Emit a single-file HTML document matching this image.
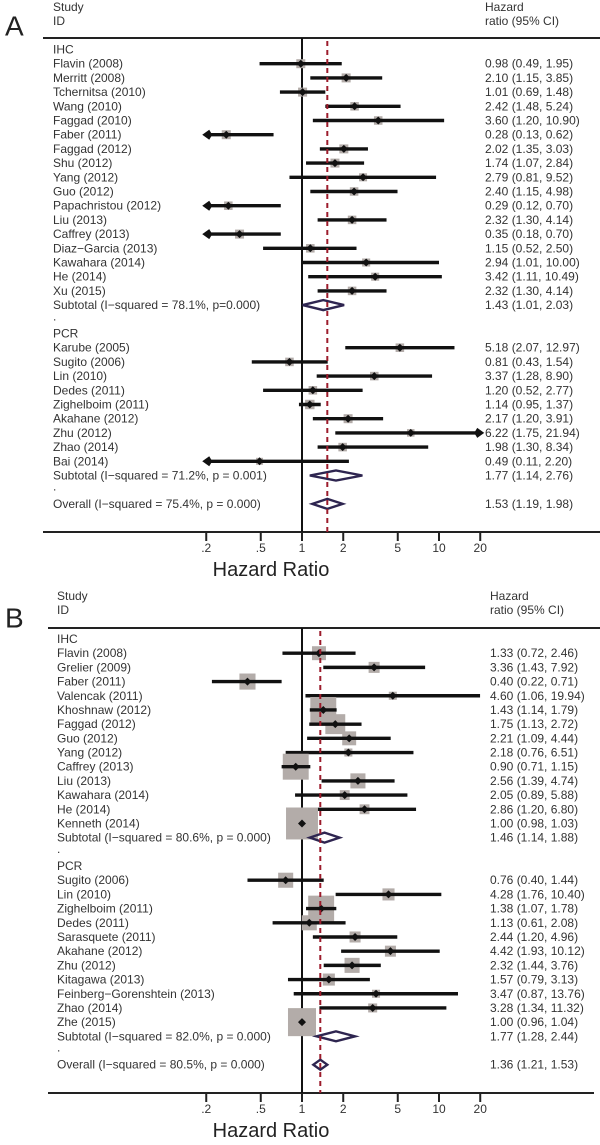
<!DOCTYPE html>
<html><head><meta charset="utf-8"><style>
body{margin:0;background:#fff}
svg{display:block;font-family:"Liberation Sans",Arial,sans-serif}
</style></head><body>
<svg id="chart" width="600" height="1145" viewBox="0 0 600 1145" xmlns="http://www.w3.org/2000/svg"></svg>
<script>
// ---------- Panel A data ----------
const groupsA = ["IHC", "PCR"];
const namesA1 = ["Flavin (2008)","Merritt (2008)","Tchernitsa (2010)","Wang (2010)","Faggad (2010)","Faber (2011)","Faggad (2012)","Shu (2012)","Yang (2012)","Guo (2012)","Papachristou (2012)","Liu  (2013)","Caffrey (2013)","Diaz\u2212Garcia (2013)","Kawahara (2014)","He (2014)","Xu (2015)"];
const hrA1 = [0.98,2.10,1.01,2.42,3.60,0.28,2.02,1.74,2.79,2.40,0.29,2.32,0.35,1.15,2.94,3.42,2.32];
const loA1 = [0.49,1.15,0.69,1.48,1.20,0.13,1.35,1.07,0.81,1.15,0.12,1.30,0.18,0.52,1.01,1.11,1.30];
const hiA1 = [1.95,3.85,1.48,5.24,10.90,0.62,3.03,2.84,9.52,4.98,0.70,4.14,0.70,2.50,10.00,10.49,4.14];
const wA1 = [1.0,1.0,1.0,0.9,0.9,1.0,1.0,1.0,0.8,0.9,0.9,0.9,1.0,0.9,0.8,0.8,0.9];
const subA1 = {label:"Subtotal  (I\u2212squared = 78.1%, p=0.000)", hr:1.43, lo:1.01, hi:2.03};
const namesA2 = ["Karube (2005)","Sugito (2006)","Lin (2010)","Dedes (2011)","Zighelboim (2011)","Akahane (2012)","Zhu (2012)","Zhao (2014)","Bai (2014)"];
const hrA2 = [5.18,0.81,3.37,1.20,1.14,2.17,6.22,1.98,0.49];
const loA2 = [2.07,0.43,1.28,0.52,0.95,1.20,1.75,1.30,0.11];
const hiA2 = [12.97,1.54,8.90,2.77,1.37,3.91,21.94,8.34,2.20];
const wA2 = [0.9,0.9,0.9,0.9,1.1,1.0,0.7,0.9,0.6];
const subA2 = {label:"Subtotal  (I\u2212squared = 71.2%, p = 0.001)", hr:1.77, lo:1.14, hi:2.76};
const overallA = {label:"Overall  (I\u2212squared = 75.4%, p = 0.000)", hr:1.53, lo:1.19, hi:1.98};

// ---------- Panel B data ----------
const namesB1 = ["Flavin (2008)","Grelier (2009)","Faber (2011)","Valencak (2011)","Khoshnaw (2012)","Faggad (2012)","Guo (2012)","Yang (2012)","Caffrey (2013)","Liu (2013)","Kawahara (2014)","He (2014)","Kenneth (2014)"];
const hrB1 = [1.33,3.36,0.40,4.60,1.43,1.75,2.21,2.18,0.90,2.56,2.05,2.86,1.00];
const loB1 = [0.72,1.43,0.22,1.06,1.14,1.13,1.09,0.76,0.71,1.39,0.89,1.20,0.98];
const hiB1 = [2.46,7.92,0.71,19.94,1.79,2.72,4.44,6.51,1.15,4.74,5.88,6.80,1.03];
const wB1 = [2.4,1.5,3.2,0.8,8.3,4.9,2.4,0.8,8.3,2.8,1.2,1.2,12.6];
const subB1 = {label:"Subtotal  (I\u2212squared = 80.6%, p = 0.000)", hr:1.46, lo:1.14, hi:1.88};
const namesB2 = ["Sugito (2006)","Lin (2010)","Zighelboim (2011)","Dedes (2011)","Sarasquete (2011)","Akahane (2012)","Zhu (2012)","Kitagawa (2013)","Feinberg\u2212Gorenshtein (2013)","Zhao (2014)","Zhe (2015)"];
const hrB2 = [0.76,4.28,1.38,1.13,2.44,4.42,2.32,1.57,3.47,3.28,1.00];
const loB2 = [0.40,1.76,1.07,0.61,1.20,1.93,1.44,0.79,0.87,1.34,0.96];
const hiB2 = [1.44,10.40,1.78,2.08,4.96,10.12,3.76,3.13,13.76,11.32,1.04];
const wB2 = [2.8,1.8,8.3,2.8,1.5,1.5,2.8,1.8,0.8,1.0,9.7];
const subB2 = {label:"Subtotal  (I\u2212squared = 82.0%, p = 0.000)", hr:1.77, lo:1.28, hi:2.44};
const overallB = {label:"Overall  (I\u2212squared = 80.5%, p = 0.000)", hr:1.36, lo:1.21, hi:1.53};

const tickVals = [0.2,0.5,1,2,5,10,20];
const tickLabels = [".2",".5","1","2","5","10","20"];
const clipMin = 0.2, clipMax = 20;

const svg = document.getElementById('chart');
const NS = 'http://www.w3.org/2000/svg';
function mk(tag, attrs, parent){ const e=document.createElementNS(NS,tag); for(const k in attrs) e.setAttribute(k,attrs[k]); (parent||svg).appendChild(e); return e; }
const xScale = v => 302 + Math.log10(v)*137;
const fmt = v => v.toFixed(2);
function ciText(d){ return fmt(d.hr)+" ("+fmt(d.lo)+", "+fmt(d.hi)+")"; }

function panel(cfg){
  const g = mk('g',{});
  
  
  const rowY = i => cfg.y0 + i*cfg.step;
  let t;
  t = mk('text',{x:5,y:cfg.letterY,'font-size':28,fill:'#222','dominant-baseline':'central'},g); t.textContent=cfg.letter;
   
  t = mk('text',{x:cfg.tx,y:cfg.studyY,'font-size':12,fill:'#333','dominant-baseline':'central'},g); t.textContent="Study";
   
  t = mk('text',{x:cfg.tx,y:cfg.studyY+14,'font-size':12,fill:'#333','dominant-baseline':'central'},g); t.textContent="ID";
   
  t = mk('text',{x:cfg.rx,y:cfg.studyY,'font-size':12,fill:'#333','dominant-baseline':'central'},g); t.textContent="Hazard";
   
  t = mk('text',{x:cfg.rx,y:cfg.studyY+14,'font-size':12,fill:'#333','dominant-baseline':'central'},g); t.textContent="ratio (95% CI)";
   
  let l = mk('line',{x1:cfg.lx1,x2:600,y1:cfg.headY,y2:cfg.headY,stroke:'#222','stroke-width':2},g);
   
  l = mk('line',{x1:cfg.lx1,x2:cfg.lx2,y1:cfg.axisY,y2:cfg.axisY,stroke:'#222','stroke-width':2},g);
   
  tickVals.forEach((v,i)=>{
    const x=xScale(v);
    const tk = mk('line',{x1:x,x2:x,y1:cfg.axisY,y2:cfg.axisY+9,stroke:'#222','stroke-width':2},g);
     
    const tl = mk('text',{x:x,y:cfg.axisY+16,'font-size':12,fill:'#333','text-anchor':'middle','dominant-baseline':'central'},g);
    tl.textContent=tickLabels[i];
     
  });
  t = mk('text',{x:271,y:cfg.axisY+38,'font-size':20,fill:'#222','text-anchor':'middle','dominant-baseline':'central'},g); t.textContent="Hazard Ratio";
   
  l = mk('line',{x1:xScale(1),x2:xScale(1),y1:cfg.headY,y2:cfg.axisY,stroke:'#111','stroke-width':2},g);
   
  const marks = mk('g',{},g);
   

  let row = 0;
  function label(text, y, name){
    const tt = mk('text',{x:cfg.tx,y:y,'font-size':12,fill:'#333','dominant-baseline':'central','xml:space':'preserve'},g);
    tt.textContent=text;   return tt;
  }
  function study(name,hr,lo,hi,w){
    const y=rowY(row++);
    label(name,y,'study-label');
    const r = mk('text',{x:cfg.rx,y:y,'font-size':12,fill:'#333','dominant-baseline':'central'},g);
    r.textContent=ciText({hr,lo,hi});  
    const s = 9*Math.sqrt(w);
    const bx = mk('rect',{x:xScale(hr)-s/2,y:y-s/2,width:s,height:s,fill:'#b3aca9'},marks);
     
    const x1=xScale(Math.max(lo,clipMin)), x2=xScale(Math.min(hi,clipMax));
    const ci = mk('line',{x1:x1,x2:x2,y1:y,y2:y,stroke:'#111','stroke-width':3.4},marks);
     
    if(lo<clipMin){ const a=mk('polygon',{points:`${x1-4},${y} ${x1+3},${y-5} ${x1+6},${y} ${x1+3},${y+5}`,fill:'#111'},marks);
        }
    if(hi>clipMax){ const a=mk('polygon',{points:`${x2+4},${y} ${x2-3},${y-5} ${x2-6},${y} ${x2-3},${y+5}`,fill:'#111'},marks);
        }
    const cx=xScale(hr);
    const pm = mk('polygon',{points:`${cx-4},${y} ${cx},${y-4} ${cx+4},${y} ${cx},${y+4}`,fill:'#111'},marks);
     
  }
  function pooled(d,name){
    const y=rowY(row++);
    label(d.label,y,name+'-label');
    const r = mk('text',{x:cfg.rx,y:y,'font-size':12,fill:'#333','dominant-baseline':'central'},g);
    r.textContent=ciText(d);  
    const a=xScale(d.lo), b=xScale(d.hi), c=xScale(d.hr);
    const dm = mk('polygon',{points:`${a},${y} ${c},${y-5} ${b},${y} ${c},${y+5}`,fill:'none',stroke:'#2e2550','stroke-width':2.4},g);
     
  }
  function dot(){ const y=rowY(row++); label('.',y-3,'spacer-dot'); }
  label(cfg.groups[0], rowY(row++), 'group-label');
  cfg.s1.names.forEach((n,i)=>study(n,cfg.s1.hr[i],cfg.s1.lo[i],cfg.s1.hi[i],cfg.s1.w[i]));
  pooled(cfg.s1.sub,'subtotal');
  dot();
  label(cfg.groups[1], rowY(row++), 'group-label');
  cfg.s2.names.forEach((n,i)=>study(n,cfg.s2.hr[i],cfg.s2.lo[i],cfg.s2.hi[i],cfg.s2.w[i]));
  pooled(cfg.s2.sub,'subtotal');
  dot();
  pooled(cfg.overall,'overall');
  l = mk('line',{x1:xScale(cfg.overall.hr),x2:xScale(cfg.overall.hr),y1:cfg.headY+3,y2:cfg.axisY,stroke:'#9c1c2c','stroke-width':2,'stroke-dasharray':'5,4'},g);
   
}

panel({name:'panel-a',letter:'A',letterY:26,studyY:7,headY:38,axisY:532,y0:49.5,step:14.2,tx:53,rx:485,lx1:43,lx2:600,groups:groupsA,
  s1:{names:namesA1,hr:hrA1,lo:loA1,hi:hiA1,w:wA1,sub:subA1},
  s2:{names:namesA2,hr:hrA2,lo:loA2,hi:hiA2,w:wA2,sub:subA2},overall:overallA});
panel({name:'panel-b',letter:'B',letterY:618,studyY:596,headY:628,axisY:1093,y0:639,step:14.19,tx:57,rx:490,lx1:48,lx2:594,groups:groupsA,
  s1:{names:namesB1,hr:hrB1,lo:loB1,hi:hiB1,w:wB1,sub:subB1},
  s2:{names:namesB2,hr:hrB2,lo:loB2,hi:hiB2,w:wB2,sub:subB2},overall:overallB});
</script>
</body></html>
